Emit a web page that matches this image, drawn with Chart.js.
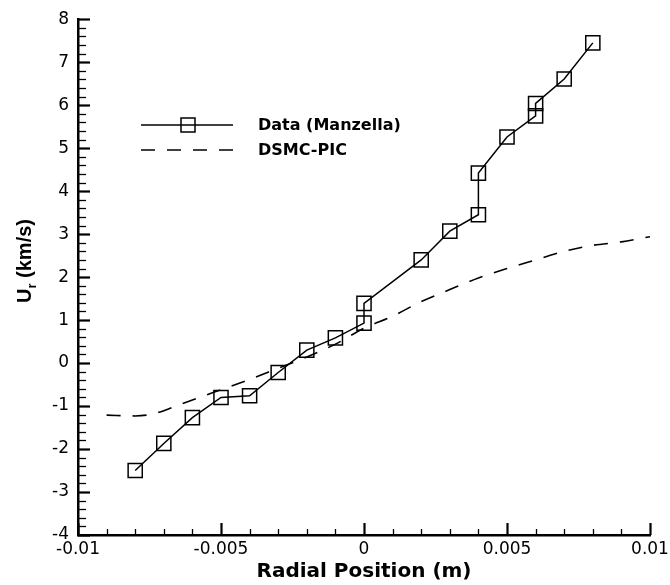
<!DOCTYPE html>
<html><head><meta charset="utf-8">
<script src="https://cdn.jsdelivr.net/npm/chart.js@4.4.1/dist/chart.umd.min.js"></script>
<style>html,body{margin:0;padding:0;background:#fff}#wrap{width:670px;height:585px;position:relative}</style>
</head><body><div id="wrap"><canvas id="c" width="670" height="585"></canvas></div>
<script>
// Measured data (Manzella)
const dataX = [-0.008,-0.007,-0.006,-0.005,-0.004,-0.003,-0.002,-0.001,0,0,0.002,0.003,0.004,0.004,0.005,0.006,0.006,0.007,0.008];
const dataY = [-2.50,-1.87,-1.27,-0.80,-0.76,-0.22,0.30,0.585,0.93,1.39,2.40,3.07,3.45,4.42,5.26,5.75,6.04,6.61,7.45];
// DSMC-PIC simulation
const simX = [-0.009,-0.008,-0.0075,-0.007,-0.0065,-0.006,-0.005,-0.004,-0.003,-0.002,-0.001,0,0.001,0.002,0.003,0.004,0.005,0.006,0.007,0.008,0.009,0.01];
const simY = [-1.21,-1.23,-1.20,-1.11,-0.98,-0.86,-0.62,-0.38,-0.12,0.14,0.44,0.81,1.09,1.43,1.71,1.98,2.20,2.40,2.60,2.74,2.82,2.94];
// Tick labels
const xTickValues = [-0.01,-0.005,0,0.005,0.01];
const xTickLabels = ['-0.01','-0.005','0','0.005','0.01'];
const yTickValues = [-4,-3,-2,-1,0,1,2,3,4,5,6,7,8];
const yTickLabels = ['-4','-3','-2','-1','0','1','2','3','4','5','6','7','8'];
const xMinorStep = 0.001, yMinorStep = 0.2;
const seriesLabels = ['Data (Manzella)','DSMC-PIC'];

const FONT = '"DejaVu Sans", "Liberation Sans", Arial, sans-serif';
const YFONT = '"Liberation Sans", Arial, sans-serif';

const innerTicks = {
  id:'innerTicks',
  afterDraw(chart){
    const ctx = chart.ctx, xs = chart.scales.x, ys = chart.scales.y, a = chart.chartArea;
    ctx.save(); ctx.strokeStyle = '#000';
    const nY = Math.round((ys.max - ys.min)/yMinorStep);
    for(let i=0;i<=nY;i++){
      const v = ys.min + i*yMinorStep;
      const major = Math.abs(v - Math.round(v)) < 1e-6;
      const p = Math.round(ys.getPixelForValue(v)) + 0.5;
      ctx.lineWidth = major ? 2.2 : 1.3;
      ctx.beginPath(); ctx.moveTo(a.left, p); ctx.lineTo(a.left + (major?12:8), p); ctx.stroke();
    }
    const nX = Math.round((xs.max - xs.min)/xMinorStep);
    for(let i=0;i<=nX;i++){
      const v = xs.min + i*xMinorStep;
      const major = i % 5 === 0;
      const p = Math.round(xs.getPixelForValue(v)) + 0.5;
      ctx.lineWidth = major ? 2.2 : 1.3;
      ctx.beginPath(); ctx.moveTo(p, a.bottom); ctx.lineTo(p, a.bottom - (major?12:6)); ctx.stroke();
    }
    ctx.restore();
  }
};

const titles = {
  id:'titles',
  afterDraw(chart){
    const ctx = chart.ctx, a = chart.chartArea;
    ctx.save(); ctx.fillStyle = '#000';
    ctx.font = 'bold 20px ' + FONT;
    ctx.textAlign = 'center'; ctx.textBaseline = 'alphabetic';
    ctx.fillText('Radial Position (m)', (a.left + a.right)/2, 577);
    // y title with subscript
    ctx.translate(31, 261); ctx.rotate(-Math.PI/2);
    const big = 'bold 20px ' + YFONT, small = 'bold 13px ' + YFONT;
    ctx.font = big; const wU = ctx.measureText('U').width;
    ctx.font = small; const wr = ctx.measureText('r').width;
    ctx.font = big; const wRest = ctx.measureText(' (km/s)').width;
    const total = wU + wr + wRest;
    let x = -total/2;
    ctx.textAlign = 'left';
    ctx.font = big; ctx.fillText('U', x, 0); x += wU;
    ctx.font = small; ctx.fillText('r', x, 5); x += wr;
    ctx.font = big; ctx.fillText(' (km/s)', x, 0);
    ctx.restore();
  }
};

const legendBox = {
  id:'legendBox',
  afterDraw(chart){
    const ctx = chart.ctx;
    const rows = [{y:125, ds:0},{y:150, ds:1}];
    ctx.save();
    rows.forEach(r=>{
      const ds = chart.data.datasets[r.ds];
      ctx.strokeStyle = ds.borderColor; ctx.lineWidth = ds.borderWidth;
      ctx.setLineDash(ds.borderDash || []);
      ctx.beginPath(); ctx.moveTo(141, r.y); ctx.lineTo(233, r.y); ctx.stroke();
      ctx.setLineDash([]);
      if (ds.pointRadius > 0){
        ctx.lineWidth = ds.pointBorderWidth;
        ctx.strokeRect(181, r.y - 7, 14, 14);
      }
      ctx.fillStyle = '#000'; ctx.font = 'bold 16px ' + FONT;
      ctx.textAlign = 'left'; ctx.textBaseline = 'middle';
      ctx.fillText(ds.label, 258, r.y + 1);
    });
    ctx.restore();
  }
};

new Chart(document.getElementById('c'), {
  type:'line',
  data:{
    datasets:[
      {label:seriesLabels[0], data:dataX.map((x,i)=>({x, y:dataY[i]})),
       borderColor:'#000', borderWidth:1.5, pointStyle:'rect', pointRadius:10, pointHoverRadius:10,
       pointBorderWidth:1.5, pointBorderColor:'#000', pointBackgroundColor:'rgba(0,0,0,0)', tension:0, fill:false},
      {label:seriesLabels[1], data:simX.map((x,i)=>({x, y:simY[i]})),
       borderColor:'#000', borderWidth:1.6, borderDash:[14,12], pointRadius:0, cubicInterpolationMode:'monotone', fill:false}
    ]
  },
  options:{
    responsive:false, animation:false, devicePixelRatio:1,
    layout:{padding:{left:0, right:20, top:16, bottom:0}},
    plugins:{legend:{display:false}, tooltip:{enabled:false}},
    events:[],
    scales:{
      x:{type:'linear', min:-0.01, max:0.01,
        grid:{display:false, drawTicks:false},
        border:{display:true, color:'#000', width:2.5},
        afterBuildTicks(s){ s.ticks = xTickValues.map(v=>({value:v})); },
        afterFit(s){ s.height = 50; s.paddingLeft = 0; s.paddingRight = 0; },
        ticks:{color:'#000', font:{family:FONT, size:17}, padding:4, maxRotation:0, autoSkip:false,
          callback(v){ const i = xTickValues.findIndex(t=>Math.abs(t-v)<1e-9); return i>=0 ? xTickLabels[i] : ''; }}
      },
      y:{type:'linear', min:-4, max:8,
        grid:{display:false, drawTicks:false},
        border:{display:true, color:'#000', width:2.5},
        afterBuildTicks(s){ s.ticks = yTickValues.map(v=>({value:v})); },
        afterFit(s){ s.width = 78; },
        ticks:{color:'#000', font:{family:FONT, size:17}, padding:9, autoSkip:false,
          callback(v){ const i = yTickValues.findIndex(t=>Math.abs(t-v)<1e-9); return i>=0 ? yTickLabels[i] : ''; }}
      }
    }
  },
  plugins:[innerTicks, titles, legendBox]
});
</script></body></html>
